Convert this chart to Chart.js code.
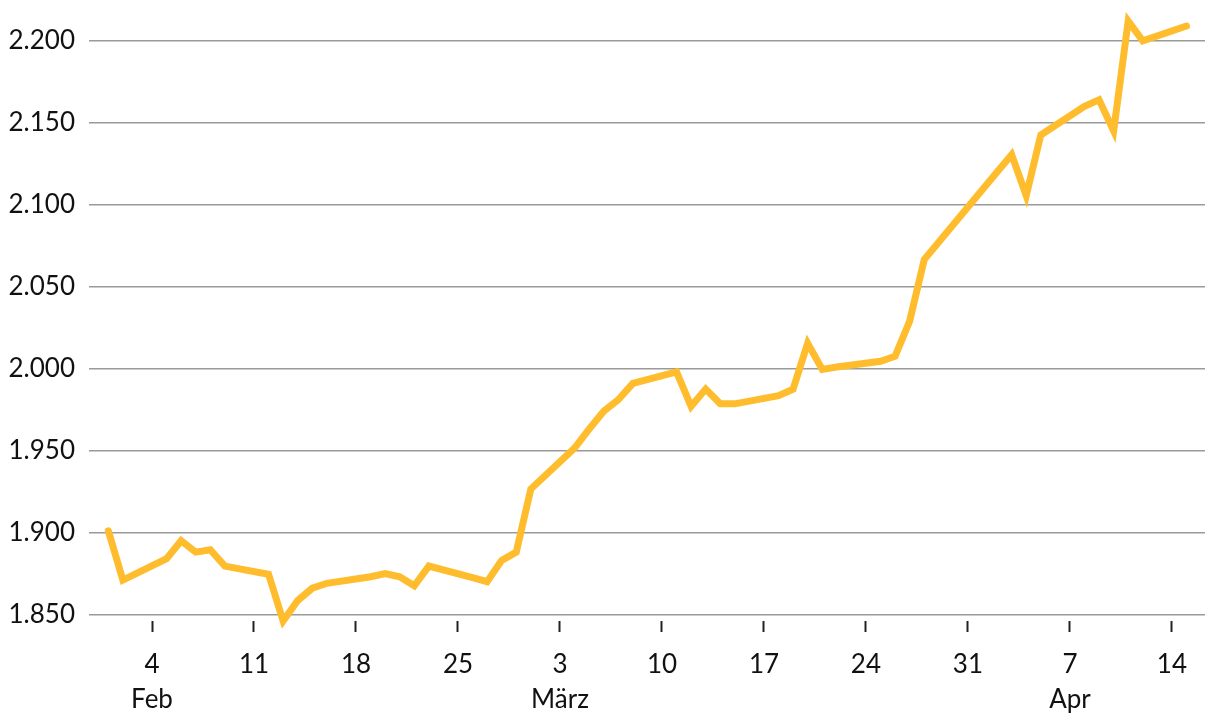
<!DOCTYPE html>
<html>
<head>
<meta charset="utf-8">
<script src="https://cdn.jsdelivr.net/npm/chart.js@4.4.1/dist/chart.umd.min.js"></script>
<style>
html,body{margin:0;padding:0;background:#fff;}
#wrap{width:1220px;height:728px;position:relative;}
</style>
</head>
<body>
<div id="wrap"><canvas id="c"></canvas></div>
<script>
// Trading days (2024) and values
const dates = [
  '2024-02-01','2024-02-02','2024-02-05','2024-02-06','2024-02-07','2024-02-08','2024-02-09',
  '2024-02-12','2024-02-13','2024-02-14','2024-02-15','2024-02-16',
  '2024-02-19','2024-02-20','2024-02-21','2024-02-22','2024-02-23',
  '2024-02-26','2024-02-27','2024-02-28','2024-02-29','2024-03-01',
  '2024-03-04','2024-03-05','2024-03-06','2024-03-07','2024-03-08',
  '2024-03-11','2024-03-12','2024-03-13','2024-03-14','2024-03-15',
  '2024-03-18','2024-03-19','2024-03-20','2024-03-21','2024-03-22',
  '2024-03-25','2024-03-26','2024-03-27','2024-03-28',
  '2024-04-02','2024-04-03','2024-04-04','2024-04-05',
  '2024-04-08','2024-04-09','2024-04-10','2024-04-11','2024-04-12',
  '2024-04-15'
];
const values = [
  1901, 1871, 1884, 1895, 1888, 1889.5, 1879.5,
  1874.5, 1846, 1858.5, 1866, 1869,
  1873, 1875, 1873, 1867.5, 1879.5,
  1872.5, 1870, 1883, 1888, 1926.5,
  1951.5, 1963, 1974, 1981, 1991,
  1998, 1977, 1987.5, 1978.5, 1978.5,
  1983.5, 1987.5, 2015.5, 1999.5, 2001,
  2004.5, 2007.5, 2029, 2066.5,
  2120, 2130.5, 2105.5, 2142.5,
  2160, 2164, 2145, 2212, 2200,
  2209
];
// x-axis tick dates (Sundays) and month labels
const tickDates = ['2024-02-04','2024-02-11','2024-02-18','2024-02-25','2024-03-03','2024-03-10','2024-03-17','2024-03-24','2024-03-31','2024-04-07','2024-04-14'];
const tickDayLabels = ['4','11','18','25','3','10','17','24','31','7','14'];
const tickMonthLabels = ['Feb','','','','März','','','','','Apr',''];
// y-axis ticks
const yTicks = [1850, 1900, 1950, 2000, 2050, 2100, 2150, 2200];

const BASE = Date.UTC(2024, 1, 4);
function dayNum(s) {
  const p = s.split('-').map(Number);
  return Math.round((Date.UTC(p[0], p[1] - 1, p[2]) - BASE) / 86400000);
}
const points = dates.map((d, i) => ({ x: dayNum(d), y: values[i] }));
const tickDays = tickDates.map(dayNum);

function fmt(v) {
  const th = Math.floor(v / 1000);
  const rest = String(Math.round(v % 1000)).padStart(3, '0');
  return th + '.' + rest;
}

const FONT = 'Lato, "Noto Sans", sans-serif';

new Chart(document.getElementById('c'), {
  type: 'line',
  data: {
    datasets: [{
      data: points,
      borderColor: '#FFBC2D',
      borderWidth: 7,
      pointRadius: 0,
      pointHoverRadius: 0,
      tension: 0,
      fill: false,
      clip: false,
      borderJoinStyle: 'miter',
      borderCapStyle: 'round'
    }]
  },
  options: {
    responsive: true,
    maintainAspectRatio: false,
    animation: false,
    layout: { padding: { top: 8, right: 15, left: 0, bottom: 0 } },
    plugins: { legend: { display: false }, tooltip: { enabled: false } },
    scales: {
      x: {
        type: 'linear',
        min: -4.324,
        max: 72.27,
        border: { display: false },
        grid: {
          drawOnChartArea: false,
          drawTicks: true,
          tickLength: 11,
          tickColor: '#222',
          tickWidth: 2
        },
        afterBuildTicks: (scale) => { scale.ticks = tickDays.map(v => ({ value: v })); },
        afterFit: (scale) => { scale.height = 107; scale.paddingLeft = 0; scale.paddingRight = 0; },
        ticks: {
          autoSkip: false,
          maxRotation: 0,
          padding: 15,
          color: '#111',
          font: { family: FONT, size: 26, lineHeight: 1.35 },
          callback: (v) => {
            const i = tickDays.indexOf(v);
            if (i < 0) return '';
            return tickMonthLabels[i] ? [tickDayLabels[i], tickMonthLabels[i]] : tickDayLabels[i];
          }
        }
      },
      y: {
        type: 'linear',
        min: 1846,
        max: 2220,
        border: { display: false },
        grid: {
          color: '#9a9a9a',
          lineWidth: 1.5,
          drawTicks: false
        },
        afterBuildTicks: (scale) => { scale.ticks = yTicks.map(v => ({ value: v })); },
        afterFit: (scale) => { scale.width = 89; scale.paddingTop = 0; scale.paddingBottom = 0; },
        ticks: {
          padding: 14,
          color: '#111',
          font: { family: FONT, size: 26 },
          callback: (v) => fmt(v)
        }
      }
    }
  }
});
</script>
</body>
</html>
